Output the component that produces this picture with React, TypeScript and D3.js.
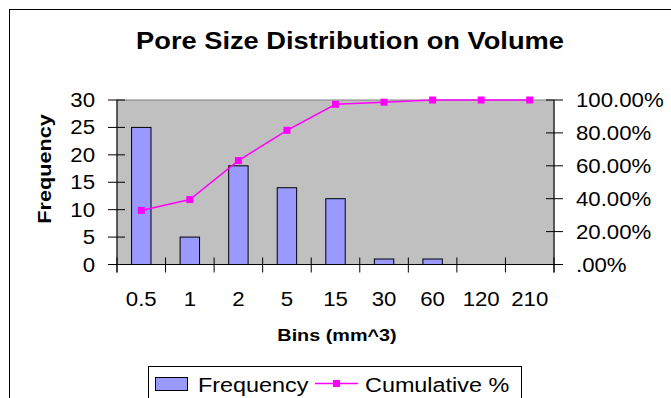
import React from "react";
import * as d3 from "d3";

const categories = ["0.5", "1", "2", "5", "15", "30", "60", "120", "210"];
const frequency = [25, 5, 18, 14, 12, 1, 1, 0, 0];
const cumulative = [32.89, 39.47, 63.16, 81.58, 97.37, 98.68, 100, 100, 100];
const leftTicks = [0, 5, 10, 15, 20, 25, 30];
const rightTicks = [0, 20, 40, 60, 80, 100];

const FONT = "'Liberation Sans', Arial, sans-serif";

function T({ x, y, sx = 1.14, rotate = 0, anchor = "start", size = 19.5, weight = "normal", children }: any) {
  return (
    <text
      transform={`translate(${x},${y}) rotate(${rotate}) scale(${sx},1)`}
      textAnchor={anchor}
      fontFamily={FONT}
      fontSize={size}
      fontWeight={weight}
      fill="#000"
    >
      {children}
    </text>
  );
}

export default function App() {
  const W = 671, H = 398;
  const L = 117, R = 554, TOP = 100, BOT = 264.5;
  const x = d3.scaleBand<string>().domain(categories).range([L, R]);
  const yL = d3.scaleLinear().domain([0, 30]).range([BOT, TOP]);
  const yR = d3.scaleLinear().domain([0, 100]).range([BOT, TOP]);
  const bw = x.bandwidth() * 0.4;
  const line = d3
    .line<number>()
    .x((_, i) => x(categories[i])! + x.bandwidth() / 2)
    .y((d) => yR(d));
  const fmtR = (v: number) => (v === 0 ? ".00%" : v.toFixed(2) + "%");
  const boundaries = d3.range(categories.length + 1).map((i) => L + i * x.bandwidth());

  return (
    <svg width={W} height={H} style={{ position: "absolute", left: 0, top: 0, background: "#fff" }}>
      <rect x={9.5} y={9.5} width={700} height={500} fill="#fff" stroke="#000" strokeWidth={1} />
      <T x={350} y={48.5} size={23} weight="bold" anchor="middle" sx={1.185}>
        Pore Size Distribution on Volume
      </T>

      <rect x={L} y={TOP} width={R - L} height={BOT - TOP} fill="#C0C0C0" stroke="#808080" strokeWidth={1} />

      {frequency.map((v, i) =>
        v > 0 ? (
          <rect
            key={i}
            x={x(categories[i])! + (x.bandwidth() - bw) / 2}
            y={yL(v)}
            width={bw}
            height={BOT - yL(v)}
            fill="#9999FF"
            stroke="#000"
            strokeWidth={1}
          />
        ) : null
      )}

      {/* left axis */}
      <line x1={L} x2={L} y1={TOP} y2={BOT + 8} stroke="#000" />
      {leftTicks.map((t) => (
        <g key={t}>
          <line x1={L - 9} x2={L + 8} y1={yL(t)} y2={yL(t)} stroke="#000" />
          <T x={95} y={yL(t) + 7} anchor="end">{t}</T>
        </g>
      ))}
      {/* right axis */}
      <line x1={R} x2={R} y1={TOP} y2={BOT + 8} stroke="#000" />
      {rightTicks.map((t) => (
        <g key={t}>
          <line x1={R - 8} x2={R + 9} y1={yR(t)} y2={yR(t)} stroke="#000" />
          <T x={576} y={yR(t) + 7}>{fmtR(t)}</T>
        </g>
      ))}
      {/* x axis */}
      <line x1={L} x2={R} y1={BOT} y2={BOT} stroke="#000" />
      {boundaries.map((b, i) => (
        <line key={i} x1={b} x2={b} y1={BOT - 7} y2={BOT + 8} stroke="#000" />
      ))}
      {categories.map((c) => (
        <T key={c} x={x(c)! + x.bandwidth() / 2} y={306} anchor="middle">{c}</T>
      ))}

      <path d={line(cumulative) || ""} fill="none" stroke="#FF00FF" strokeWidth={1.5} />
      {cumulative.map((v, i) => (
        <rect
          key={i}
          x={x(categories[i])! + x.bandwidth() / 2 - 3.5}
          y={yR(v) - 3.5}
          width={7}
          height={7}
          fill="#FF00FF"
        />
      ))}

      <T x={337} y={341} size={16.5} weight="bold" anchor="middle" sx={1.2}>Bins (mm^3)</T>
      <T x={51} y={169} size={18.5} weight="bold" anchor="middle" rotate={-90} sx={1.17}>Frequency</T>

      {/* legend */}
      <rect x={148.5} y={366.5} width={373} height={60} fill="#fff" stroke="#000" />
      <rect x={155.5} y={377.5} width={32} height={13} fill="#9999FF" stroke="#000" />
      <T x={198} y={391.5} size={19.5} sx={1.2}>Frequency</T>
      <line x1={315} x2={358} y1={383.5} y2={383.5} stroke="#FF00FF" strokeWidth={1.5} />
      <rect x={333} y={380} width={7} height={7} fill="#FF00FF" />
      <T x={365} y={391.5} size={19.5} sx={1.2}>Cumulative %</T>
    </svg>
  );
}
